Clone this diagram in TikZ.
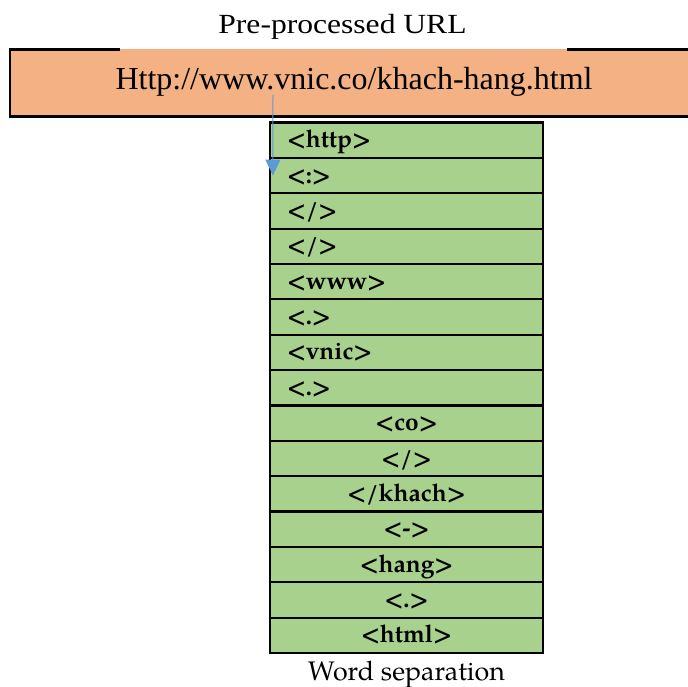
\documentclass[tikz,border=0pt]{standalone}
\usepackage{fontspec}
\setmainfont{Liberation Serif}
\newfontfamily\cellfont{TeX Gyre Pagella}
\usetikzlibrary{arrows.meta}
\definecolor{urlorange}{HTML}{F4B183}
\definecolor{cellgreen}{HTML}{A9D18E}
\definecolor{arrowblue}{HTML}{5B9BD5}
\begin{document}
\begin{tikzpicture}[x=1pt,y=-1pt,
  cell/.style={draw=black, line width=2.2pt, fill=cellgreen,
    minimum width=273pt, minimum height=35.37pt, inner sep=0pt,
    text height=18pt, text depth=3pt,
    font=\cellfont\bfseries\fontsize{24.5}{26}\selectfont},
  cellL/.style={cell, text width=239pt, align=left},
  cellC/.style={cell, text width=239pt, align=center},
  boxline/.style={line width=2.5pt, draw=black},
  arrowline/.style={draw=arrowblue, line width=1pt,
    -{Triangle[width=15pt,length=16pt]}}]
\useasboundingbox (0,0) rectangle (688,687);

% heading above the URL box
\node[anchor=base, inner sep=0pt, font=\fontsize{27.7}{30}\selectfont]
  (title) at (342.5,33.3) {\scalebox{1.14}[1]{Pre-processed URL}};

% URL box: filled band, border open under the heading and at the right
\fill[urlorange] (10,49.5) rectangle (690,116.5);
\draw[boxline] (120,49.5) -- (10,49.5) -- (10,116.5) -- (690,116.5);
\draw[boxline] (567,49.5) -- (690,49.5);
\node[anchor=base, inner sep=0pt, font=\fontsize{32}{36}\selectfont]
  (url) at (354,90) {Http://www.vnic.co/khach-hang.html};

% token column
\node[cellL] (c1)  at (406.5,140.19) {<http>};
\node[cellL] (c2)  at (406.5,175.56) {<:>};
\node[cellL] (c3)  at (406.5,210.93) {</>};
\node[cellL] (c4)  at (406.5,246.30) {</>};
\node[cellL] (c5)  at (406.5,281.67) {<www>};
\node[cellL] (c6)  at (406.5,317.04) {<.>};
\node[cellL] (c7)  at (406.5,352.41) {<vnic>};
\node[cellL] (c8)  at (406.5,387.78) {<.>};
\node[cellC] (c9)  at (406.5,423.15) {<co>};
\node[cellC] (c10) at (406.5,458.52) {</>};
\node[cellC] (c11) at (406.5,493.89) {</khach>};
\node[cellC] (c12) at (406.5,529.26) {<->};
\node[cellC] (c13) at (406.5,564.63) {<hang>};
\node[cellC] (c14) at (406.5,600.00) {<.>};
\node[cellC] (c15) at (406.5,635.37) {<html>};

\node[anchor=base, inner sep=0pt, font=\cellfont\fontsize{26.8}{30}\selectfont]
  (caption) at (406.5,680) {Word separation};

% splitting arrow from the URL into the token column
\coordinate (src) at (273,95);
\draw[arrowline] (src) -- ([xshift=4pt]c2.west);
\end{tikzpicture}
\end{document}
